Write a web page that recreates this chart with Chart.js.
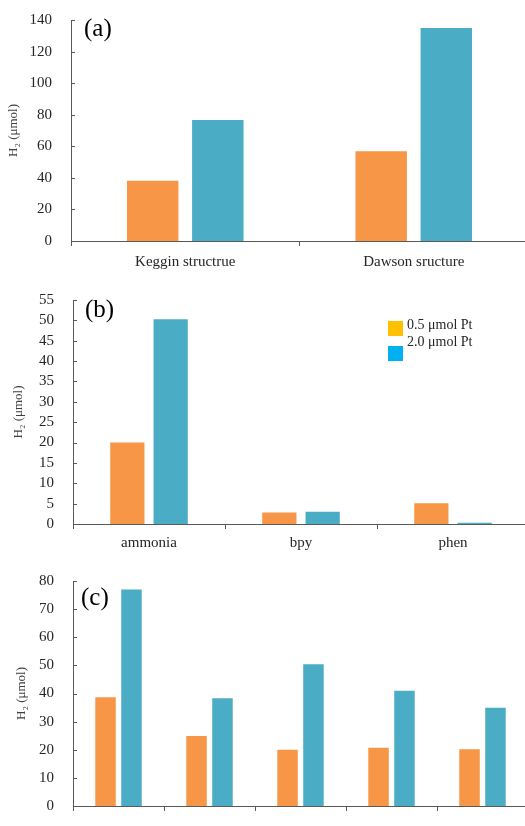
<!DOCTYPE html>
<html>
<head>
<meta charset="utf-8">
<script src="https://cdn.jsdelivr.net/npm/chart.js@4.4.1/dist/chart.umd.min.js"></script>
<style>
  html, body { margin: 0; padding: 0; background: #fff; overflow: hidden; width: 525px; height: 826px; }
  canvas { position: absolute; left: 0; }
</style>
</head>
<body>
<canvas id="chartA" width="540" height="275" style="top:0px"></canvas>
<canvas id="chartB" width="540" height="275" style="top:280px"></canvas>
<canvas id="chartC" width="540" height="271" style="top:555px"></canvas>
<script>
// series names (legend of panel b)
const seriesNames = ['0.5 μmol Pt', '2.0 μmol Pt'];

// panel (a)
const catsA = ['Keggin structrue', 'Dawson sructure'];
const lowA = [38.1, 56.9];
const highA = [76.7, 135];

// panel (b)
const catsB = ['ammonia', 'bpy', 'phen'];
const lowB = [20.0, 2.8, 5.1];
const highB = [50.3, 3.0, 0.3];

// panel (c) - category labels are cut off in the source
const catsC = ['1', '2', '3', '4', '5'];
const lowC = [38.7, 24.9, 20.0, 20.7, 20.2];
const highC = [77.0, 38.3, 50.4, 41.0, 34.9];

const yMaxA = 140, yStepA = 20;
const yMaxB = 55, yStepB = 5;
const yMaxC = 80, yStepC = 10;

const ORANGE = '#F79646';
const BLUE = '#4BACC6';
const AXIS = '#595959';
const TEXT = '#262626';
const FONT = "'Liberation Serif', 'Times New Roman', serif";

// short ticks pointing into the plot on the y axis
const innerTicks = {
    id: 'innerTicks',
    afterDraw(chart) {
        const y = chart.scales.y;
        const x0 = chart.chartArea.left;
        const ctx = chart.ctx;
        ctx.save();
        ctx.strokeStyle = AXIS;
        ctx.lineWidth = 1;
        y.ticks.forEach(t => {
            const py = Math.round(y.getPixelForValue(t.value)) + 0.5;
            ctx.beginPath();
            ctx.moveTo(x0, py);
            ctx.lineTo(x0 + 4, py);
            ctx.stroke();
        });
        ctx.restore();
    }
};

// "(a)", "(b)", "(c)" tags and the little legend in panel (b)
const extras = {
    id: 'extras',
    afterDraw(chart, args, opts) {
        const ctx = chart.ctx;
        ctx.save();
        if (opts.tag) {
            ctx.fillStyle = '#000';
            ctx.font = '25px ' + FONT;
            ctx.textBaseline = 'middle';
            ctx.textAlign = 'left';
            ctx.fillText(opts.tag.text, opts.tag.x, opts.tag.y);
        }
        if (opts.legend) {
            const lg = opts.legend;
            ctx.font = '14px ' + FONT;
            ctx.textBaseline = 'middle';
            ctx.textAlign = 'left';
            lg.colors.forEach((c, i) => {
                ctx.fillStyle = c;
                ctx.fillRect(lg.x, lg.boxY[i], 15, 15);
                ctx.fillStyle = TEXT;
                ctx.fillText(seriesNames[i], lg.x + 19, lg.textY[i]);
            });
        }
        ctx.restore();
    }
};

function makeChart(id, cats, low, high, o) {
    const el = document.getElementById(id);
    return new Chart(el, {
        type: 'bar',
        data: {
            labels: cats,
            datasets: [
                { label: seriesNames[0], data: low, backgroundColor: ORANGE, categoryPercentage: 0.57, barPercentage: 0.79 },
                { label: seriesNames[1], data: high, backgroundColor: BLUE, categoryPercentage: 0.57, barPercentage: 0.79 }
            ]
        },
        options: {
            responsive: false,
            animation: false,
            devicePixelRatio: 1,
            layout: { padding: { top: o.top, right: el.width - o.right, bottom: 0, left: 0 } },
            plugins: {
                legend: { display: false },
                tooltip: { enabled: false },
                extras: { tag: o.tag, legend: o.legend }
            },
            scales: {
                x: {
                    grid: { display: true, drawOnChartArea: false, drawTicks: true, tickLength: 5, color: AXIS, offset: true },
                    border: { display: true, color: AXIS, width: 1 },
                    ticks: { display: o.showX, color: TEXT, font: { family: FONT, size: 15 }, padding: o.xPad || 4, maxRotation: 0 },
                    afterFit(s) { s.height = el.height - o.bottom; }
                },
                y: {
                    min: 0,
                    max: o.yMax,
                    grid: { display: false },
                    border: { display: true, color: AXIS, width: 1 },
                    ticks: { stepSize: o.yStep, autoSkip: false, color: TEXT, font: { family: FONT, size: 15 }, padding: 11 },
                    title: {
                        display: true,
                        text: 'H₂ (μmol)',
                        color: '#404040',
                        font: { family: FONT, size: 13 },
                        padding: { top: o.titlePad, bottom: 0 }
                    },
                    afterFit(s) { s.width = o.left; }
                }
            }
        },
        plugins: [innerTicks, extras]
    });
}

makeChart('chartA', catsA, lowA, highA, {
    top: 17, bottom: 241, left: 71, right: 528, yMax: yMaxA, yStep: yStepA, titlePad: 6, showX: true, xPad: 7,
    tag: { text: '(a)', x: 84, y: 29 }
});
makeChart('chartB', catsB, lowB, highB, {
    top: 16, bottom: 244, left: 73, right: 529, yMax: yMaxB, yStep: yStepB, titlePad: 11, showX: true, xPad: 5,
    tag: { text: '(b)', x: 85, y: 30 },
    legend: { x: 388, boxY: [41, 66], textY: [45, 62], colors: ['#FFC000', '#00B0F0'] }
});
makeChart('chartC', catsC, lowC, highC, {
    top: 26, bottom: 258, left: 73, right: 528, yMax: yMaxC, yStep: yStepC, titlePad: 14, showX: false,
    tag: { text: '(c)', x: 81, y: 43 }
});
</script>
</body>
</html>
